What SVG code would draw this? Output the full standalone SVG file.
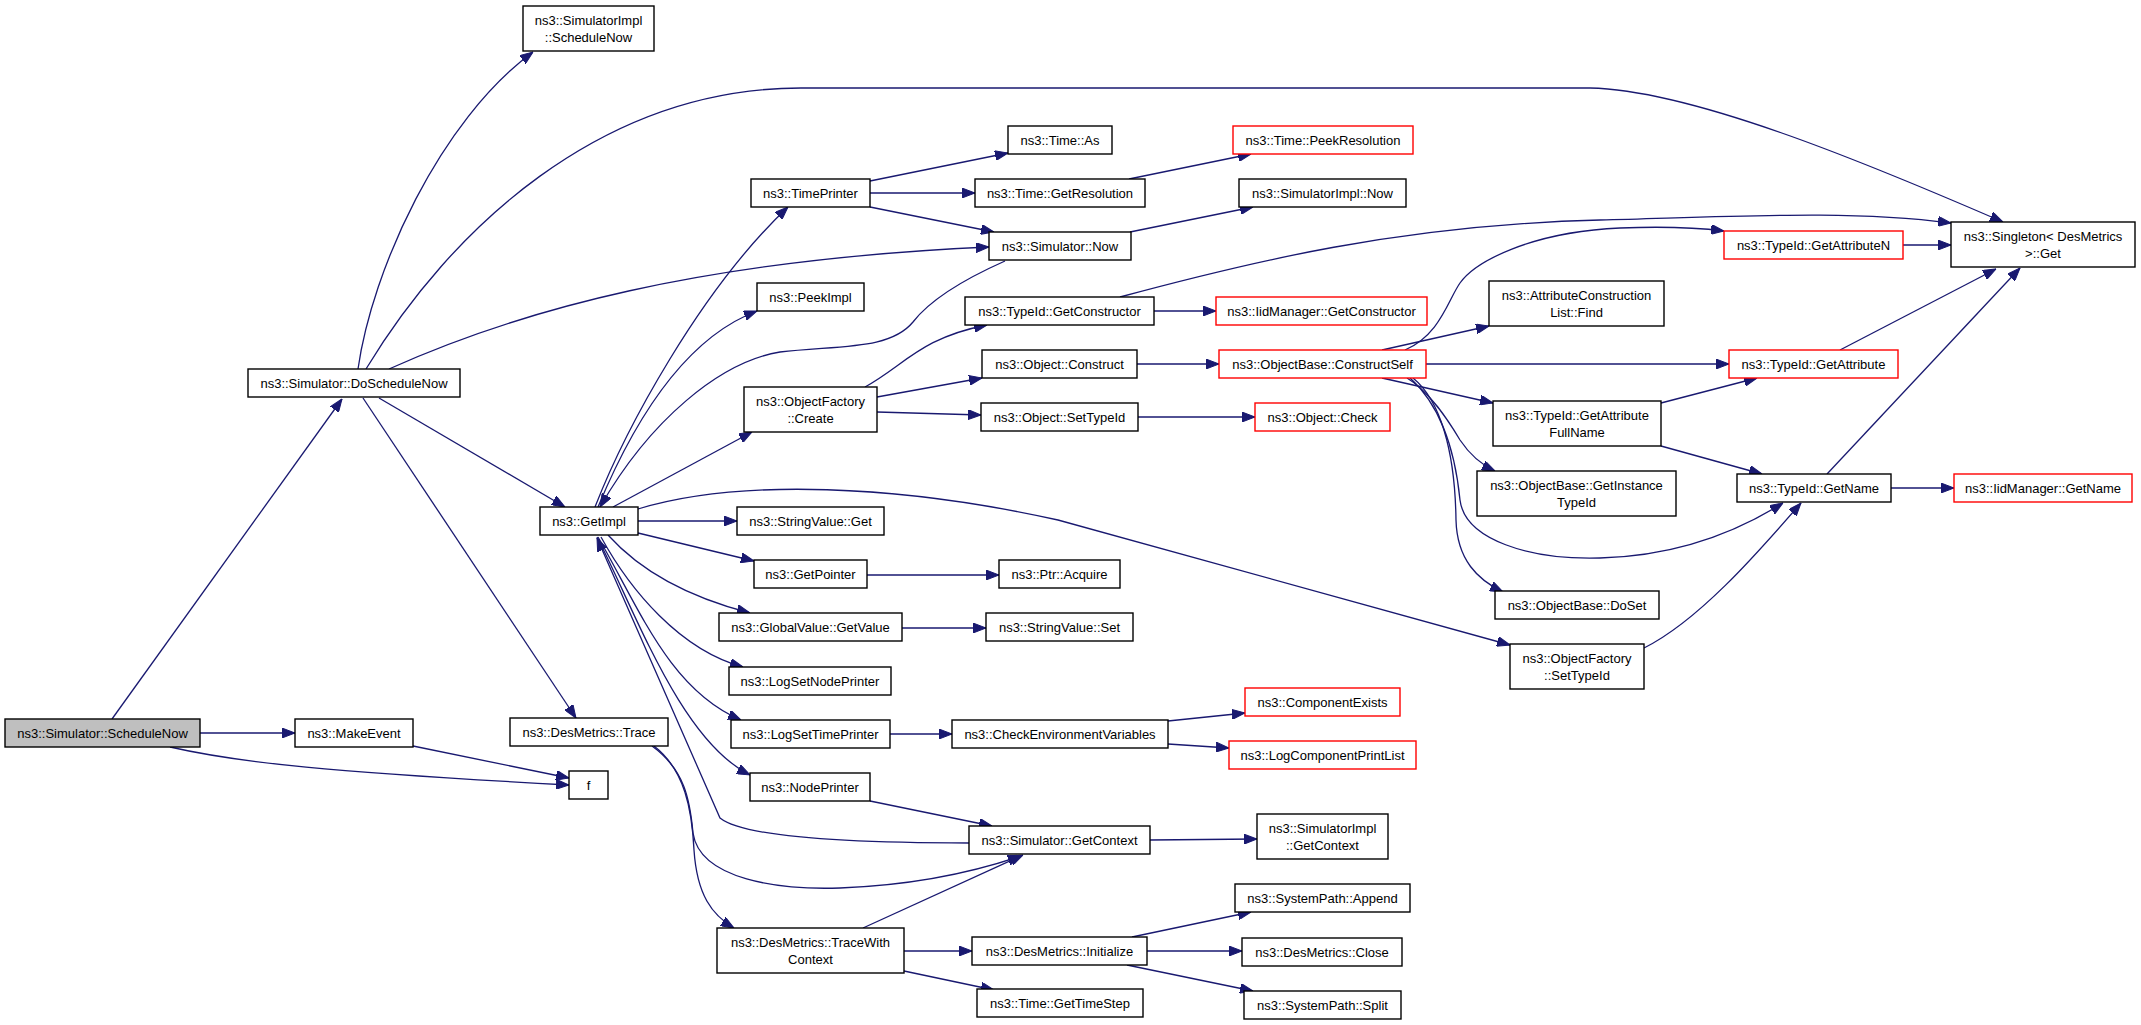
<svg xmlns="http://www.w3.org/2000/svg" width="2141" height="1025" viewBox="0 0 2141 1025">
<defs>
<marker id="ah" markerUnits="userSpaceOnUse" markerWidth="13" markerHeight="10" refX="13" refY="5" orient="auto">
<path d="M0,0 L13,5 L0,10 z" fill="#191970" stroke="#191970" stroke-width="1"/>
</marker>
<style>
.node rect{fill:#ffffff;stroke:#000000;stroke-width:1.4}
.node.red rect{stroke:#ff0000}
.node.root rect{fill:#bfbfbf}
.node text{font-family:"Liberation Sans",Arial,Helvetica,sans-serif;font-size:13px;fill:#000000;text-anchor:middle}
.edges path{fill:none;stroke:#191970;stroke-width:1.3;marker-end:url(#ah)}
</style>
</defs>
<rect x="0" y="0" width="2141" height="1025" fill="#ffffff"/>
<g id="edges" class="edges">
<path d="M112,719 L342,399"/>
<path d="M200,733 L295,733"/>
<path d="M170,747 C240,763 330,772 569,785"/>
<path d="M413,746 L569,778"/>
<path d="M358,369 C372,270 440,120 533,52"/>
<path d="M366,369 C450,230 600,88 801,88 L1590,88 C1690,90 1860,160 2003,222"/>
<path d="M389,369 C520,310 700,260 989,247"/>
<path d="M379,398 L565,507"/>
<path d="M363,398 L576,718"/>
<path d="M595,507 C625,430 700,290 788,207"/>
<path d="M598,507 C630,430 680,340 757,311"/>
<path d="M1005,261 C960,281 930,300 913,322 C890,350 840,345 780,352 C720,362 650,420 600,507"/>
<path d="M613,507 L752,432"/>
<path d="M638,521 L737,521"/>
<path d="M638,533 L754,561"/>
<path d="M638,509 C740,478 900,485 1058,520 L1510,645"/>
<path d="M608,535 C635,565 680,595 750,613"/>
<path d="M601,537 C630,590 680,650 743,667"/>
<path d="M598,537 C640,610 670,690 741,720"/>
<path d="M597,537 C635,610 680,740 750,775"/>
<path d="M969,843 C860,843 745,838 720,818 L597,538"/>
<path d="M652,746 C685,770 690,800 693,833 C700,880 780,890 840,888 C920,885 980,870 1021,856"/>
<path d="M654,746 C685,770 692,810 694,850 C697,895 712,915 734,928"/>
<path d="M863,928 L1023,855"/>
<path d="M904,951 L972,951"/>
<path d="M904,971 L994,990"/>
<path d="M1132,937 L1251,912"/>
<path d="M1147,951 L1242,951"/>
<path d="M1127,965 L1253,991"/>
<path d="M890,734 L952,734"/>
<path d="M1168,721 L1245,713"/>
<path d="M1168,744 L1229,748"/>
<path d="M870,801 L992,826"/>
<path d="M1150,840 L1257,839"/>
<path d="M902,628 L986,628"/>
<path d="M867,575 L999,575"/>
<path d="M870,181 L1008,153"/>
<path d="M870,193 L975,193"/>
<path d="M870,207 L994,232"/>
<path d="M1129,179 L1251,154"/>
<path d="M1130,232 L1253,207"/>
<path d="M865,387 C905,365 920,338 987,325"/>
<path d="M877,397 L982,378"/>
<path d="M877,412 L981,415"/>
<path d="M1154,311 L1216,311"/>
<path d="M1120,297 C1250,262 1400,225 1600,220 C1750,216 1850,210 1951,223"/>
<path d="M1137,364 L1219,364"/>
<path d="M1138,417 L1255,417"/>
<path d="M1405,350 C1440,335 1448,300 1460,283 C1475,262 1530,232 1620,228 C1670,226 1700,228 1724,231"/>
<path d="M1382,350 L1489,326"/>
<path d="M1426,364 L1729,364"/>
<path d="M1382,378 L1493,403"/>
<path d="M1407,378 C1430,392 1448,420 1460,440 C1470,455 1482,465 1495,471"/>
<path d="M1410,378 C1440,405 1455,450 1460,500 C1465,540 1530,560 1600,558 C1680,556 1740,530 1783,503"/>
<path d="M1413,378 C1440,400 1455,450 1456,520 C1457,560 1478,580 1503,592"/>
<path d="M1903,245 L1951,245"/>
<path d="M1840,350 L1996,269"/>
<path d="M1661,403 L1757,378"/>
<path d="M1661,446 L1762,474"/>
<path d="M1827,474 L2020,268"/>
<path d="M1891,488 L1954,488"/>
<path d="M1644,648 C1700,620 1760,550 1801,503"/>
</g>
<g id="n_schedulenow" class="node root"><rect x="5" y="719" width="195" height="28"/><text x="102.5" y="738">ns3::Simulator::ScheduleNow</text></g>
<g id="n_makeevent" class="node"><rect x="295" y="719" width="118" height="28"/><text x="354" y="738">ns3::MakeEvent</text></g>
<g id="n_f" class="node"><rect x="569" y="771" width="39" height="28"/><text x="588.5" y="790">f</text></g>
<g id="n_trace" class="node"><rect x="510" y="718" width="158" height="28"/><text x="589" y="737">ns3::DesMetrics::Trace</text></g>
<g id="n_doschedulenow" class="node"><rect x="248" y="369" width="212" height="28"/><text x="354" y="388">ns3::Simulator::DoScheduleNow</text></g>
<g id="n_implschedulenow" class="node"><rect x="523" y="6" width="131" height="45"/><text x="588.5" y="25">ns3::SimulatorImpl</text><text x="588.5" y="42">::ScheduleNow</text></g>
<g id="n_getimpl" class="node"><rect x="540" y="507" width="98" height="28"/><text x="589" y="526">ns3::GetImpl</text></g>
<g id="n_timeprinter" class="node"><rect x="751" y="179" width="119" height="28"/><text x="810.5" y="198">ns3::TimePrinter</text></g>
<g id="n_peekimpl" class="node"><rect x="757" y="283" width="107" height="28"/><text x="810.5" y="302">ns3::PeekImpl</text></g>
<g id="n_ofcreate" class="node"><rect x="744" y="387" width="133" height="45"/><text x="810.5" y="406">ns3::ObjectFactory</text><text x="810.5" y="423">::Create</text></g>
<g id="n_svget" class="node"><rect x="737" y="507" width="147" height="28"/><text x="810.5" y="526">ns3::StringValue::Get</text></g>
<g id="n_getpointer" class="node"><rect x="754" y="560" width="113" height="28"/><text x="810.5" y="579">ns3::GetPointer</text></g>
<g id="n_gvgetvalue" class="node"><rect x="719" y="613" width="183" height="28"/><text x="810.5" y="632">ns3::GlobalValue::GetValue</text></g>
<g id="n_logsetnode" class="node"><rect x="729" y="667" width="162" height="28"/><text x="810" y="686">ns3::LogSetNodePrinter</text></g>
<g id="n_logsettime" class="node"><rect x="731" y="720" width="159" height="28"/><text x="810.5" y="739">ns3::LogSetTimePrinter</text></g>
<g id="n_nodeprinter" class="node"><rect x="750" y="773" width="120" height="28"/><text x="810" y="792">ns3::NodePrinter</text></g>
<g id="n_tracewith" class="node"><rect x="717" y="928" width="187" height="45"/><text x="810.5" y="947">ns3::DesMetrics::TraceWith</text><text x="810.5" y="964">Context</text></g>
<g id="n_timeas" class="node"><rect x="1008" y="126" width="104" height="28"/><text x="1060" y="145">ns3::Time::As</text></g>
<g id="n_getres" class="node"><rect x="975" y="179" width="170" height="28"/><text x="1060" y="198">ns3::Time::GetResolution</text></g>
<g id="n_simnow" class="node"><rect x="989" y="232" width="142" height="28"/><text x="1060" y="251">ns3::Simulator::Now</text></g>
<g id="n_getctor" class="node"><rect x="965" y="297" width="189" height="28"/><text x="1059.5" y="316">ns3::TypeId::GetConstructor</text></g>
<g id="n_construct" class="node"><rect x="982" y="350" width="155" height="28"/><text x="1059.5" y="369">ns3::Object::Construct</text></g>
<g id="n_settypeid" class="node"><rect x="981" y="403" width="157" height="28"/><text x="1059.5" y="422">ns3::Object::SetTypeId</text></g>
<g id="n_acquire" class="node"><rect x="999" y="560" width="121" height="28"/><text x="1059.5" y="579">ns3::Ptr::Acquire</text></g>
<g id="n_svset" class="node"><rect x="986" y="613" width="147" height="28"/><text x="1059.5" y="632">ns3::StringValue::Set</text></g>
<g id="n_checkenv" class="node"><rect x="952" y="720" width="216" height="28"/><text x="1060" y="739">ns3::CheckEnvironmentVariables</text></g>
<g id="n_getcontext" class="node"><rect x="969" y="826" width="181" height="28"/><text x="1059.5" y="845">ns3::Simulator::GetContext</text></g>
<g id="n_initialize" class="node"><rect x="972" y="937" width="175" height="28"/><text x="1059.5" y="956">ns3::DesMetrics::Initialize</text></g>
<g id="n_timestep" class="node"><rect x="977" y="989" width="166" height="28"/><text x="1060" y="1008">ns3::Time::GetTimeStep</text></g>
<g id="n_peekres" class="node red"><rect x="1233" y="126" width="180" height="28"/><text x="1323" y="145">ns3::Time::PeekResolution</text></g>
<g id="n_implnow" class="node"><rect x="1239" y="179" width="167" height="28"/><text x="1322.5" y="198">ns3::SimulatorImpl::Now</text></g>
<g id="n_iidctor" class="node red"><rect x="1216" y="297" width="211" height="28"/><text x="1321.5" y="316">ns3::IidManager::GetConstructor</text></g>
<g id="n_constructself" class="node red"><rect x="1219" y="350" width="207" height="28"/><text x="1322.5" y="369">ns3::ObjectBase::ConstructSelf</text></g>
<g id="n_check" class="node red"><rect x="1255" y="403" width="135" height="28"/><text x="1322.5" y="422">ns3::Object::Check</text></g>
<g id="n_compexists" class="node red"><rect x="1245" y="688" width="155" height="28"/><text x="1322.5" y="707">ns3::ComponentExists</text></g>
<g id="n_logcomplist" class="node red"><rect x="1229" y="741" width="187" height="28"/><text x="1322.5" y="760">ns3::LogComponentPrintList</text></g>
<g id="n_implctx" class="node"><rect x="1257" y="814" width="131" height="45"/><text x="1322.5" y="833">ns3::SimulatorImpl</text><text x="1322.5" y="850">::GetContext</text></g>
<g id="n_append" class="node"><rect x="1235" y="884" width="175" height="28"/><text x="1322.5" y="903">ns3::SystemPath::Append</text></g>
<g id="n_close" class="node"><rect x="1242" y="938" width="160" height="28"/><text x="1322" y="957">ns3::DesMetrics::Close</text></g>
<g id="n_split" class="node"><rect x="1244" y="991" width="157" height="28"/><text x="1322.5" y="1010">ns3::SystemPath::Split</text></g>
<g id="n_listfind" class="node"><rect x="1489" y="281" width="175" height="45"/><text x="1576.5" y="300">ns3::AttributeConstruction</text><text x="1576.5" y="317">List::Find</text></g>
<g id="n_getattrn" class="node red"><rect x="1724" y="231" width="179" height="28"/><text x="1813.5" y="250">ns3::TypeId::GetAttributeN</text></g>
<g id="n_getattr" class="node red"><rect x="1729" y="350" width="169" height="28"/><text x="1813.5" y="369">ns3::TypeId::GetAttribute</text></g>
<g id="n_fullname" class="node"><rect x="1493" y="401" width="168" height="45"/><text x="1577" y="420">ns3::TypeId::GetAttribute</text><text x="1577" y="437">FullName</text></g>
<g id="n_instancetid" class="node"><rect x="1477" y="471" width="199" height="45"/><text x="1576.5" y="490">ns3::ObjectBase::GetInstance</text><text x="1576.5" y="507">TypeId</text></g>
<g id="n_doset" class="node"><rect x="1495" y="591" width="164" height="28"/><text x="1577" y="610">ns3::ObjectBase::DoSet</text></g>
<g id="n_ofsettypeid" class="node"><rect x="1510" y="644" width="134" height="45"/><text x="1577" y="663">ns3::ObjectFactory</text><text x="1577" y="680">::SetTypeId</text></g>
<g id="n_getname" class="node"><rect x="1737" y="474" width="154" height="28"/><text x="1814" y="493">ns3::TypeId::GetName</text></g>
<g id="n_iidgetname" class="node red"><rect x="1954" y="474" width="178" height="28"/><text x="2043" y="493">ns3::IidManager::GetName</text></g>
<g id="n_singleton" class="node"><rect x="1951" y="222" width="184" height="45"/><text x="2043" y="241">ns3::Singleton&lt; DesMetrics</text><text x="2043" y="258">&gt;::Get</text></g>
</svg>
